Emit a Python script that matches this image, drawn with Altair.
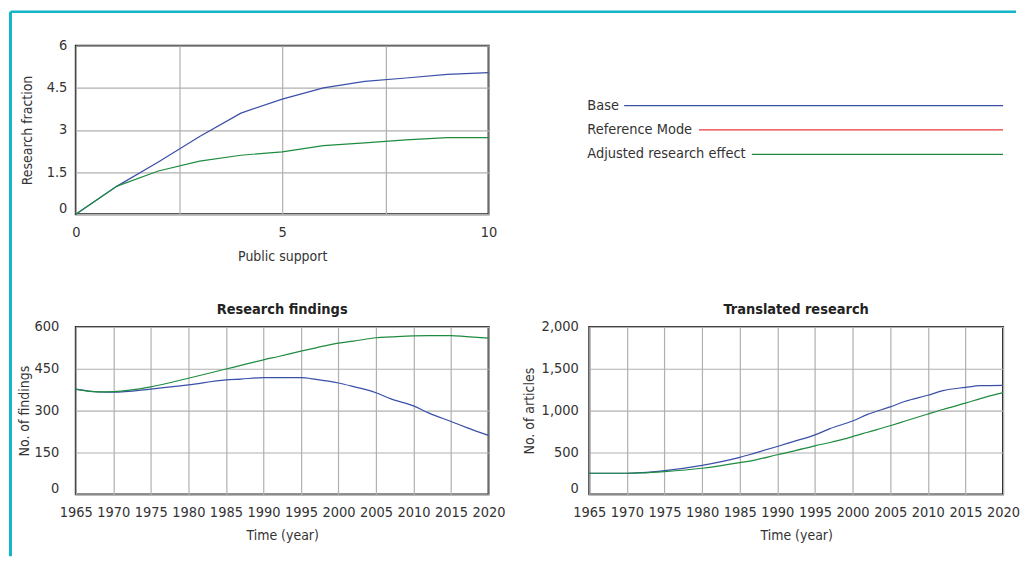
import altair as alt
import pandas as pd

FONT = "DejaVu Sans Condensed, Liberation Sans Narrow, sans-serif"
TEXT = "#333333"
BLUE = "#3a4fa8"
RED = "#e8383d"
GREEN = "#1f8b3f"
CYAN = "#14b4cc"
LABEL_SIZE = 14.5
TITLE_SIZE = 14

# ---- top chart: research fraction vs public support
support = [0, 1, 2, 3, 4, 5, 6, 7, 8, 9, 10]
base_fraction = [0, 1.0, 1.86, 2.77, 3.6, 4.1, 4.5, 4.73, 4.85, 4.98, 5.04]
adjusted_fraction = [0, 1.0, 1.54, 1.89, 2.1, 2.22, 2.44, 2.54, 2.65, 2.73, 2.73]

# ---- research findings
years_findings = [1965, 1968, 1970, 1975, 1980, 1985, 1987, 1990, 1992, 1995,
                  1997, 2000, 2002, 2005, 2007, 2010, 2012, 2015, 2017, 2020]
base_findings = [377, 367, 366, 377, 392, 410, 413, 418, 418, 418,
                 412, 399, 386, 364, 342, 317, 292, 261, 240, 211]
adjusted_findings = [376, 367, 368, 385, 416, 449, 462, 482, 494, 513,
                     525, 542, 549, 561, 564, 568, 569, 569, 565, 560]

# ---- translated research
years_translated = [1965, 1970, 1972, 1975, 1980, 1985, 1987, 1990, 1992, 1995,
                    1997, 2000, 2002, 2005, 2007, 2010, 2012, 2015, 2017, 2020]
base_translated = [252, 252, 260, 284, 347, 442, 493, 572, 627, 710,
                   785, 876, 955, 1045, 1112, 1183, 1239, 1278, 1298, 1302]
adjusted_translated = [252, 252, 256, 272, 312, 379, 410, 473, 513, 580,
                       619, 690, 742, 820, 876, 959, 1014, 1089, 1144, 1215]

series_names = ["Base", "Reference Mode", "Adjusted research effect"]
series_colors = [BLUE, RED, GREEN]
legend_row = [0, 1, 2]
legend_line_start = [35, 110, 163]  # where each legend line begins (after its label)

color_scale = alt.Scale(domain=series_names, range=series_colors)


def long_df(xs, base, adj, xname):
    rows = []
    for x, v in zip(xs, base):
        rows.append({xname: x, "value": v, "series": "Base"})
    for x, v in zip(xs, adj):
        rows.append({xname: x, "value": v, "series": "Adjusted research effect"})
    return pd.DataFrame(rows)


zero_offset = {"condition": {"test": "datum.value == 0", "value": -6}, "value": 0}

# top chart
df_top = long_df(support, base_fraction, adjusted_fraction, "support")
top_lines = alt.Chart(df_top).mark_line(strokeWidth=1.2).encode(
    x=alt.X("support:Q", scale=alt.Scale(domain=[0, 10], nice=False),
            axis=alt.Axis(values=[0, 2.5, 5, 7.5, 10],
                          labelExpr="datum.value % 5 == 0 ? format(datum.value, '~r') : ''",
                          title="Public support", labelPadding=11, titlePadding=11,
                          labelOverlap=False, labelFlush=False)),
    y=alt.Y("value:Q", scale=alt.Scale(domain=[0, 6], nice=False),
            axis=alt.Axis(values=[0, 1.5, 3, 4.5, 6],
                          labelExpr="format(datum.value, '~r')", title="Research fraction",
                          labelPadding=9, minExtent=30, maxExtent=30, titlePadding=11,
                          labelOffset=zero_offset, labelOverlap=False)),
    color=alt.Color("series:N", scale=color_scale, legend=None),
    order=alt.Order("support:Q"),
)

frame_df = pd.DataFrame({"k": [0]})
frame_v = alt.Chart(frame_df).mark_rule(color=CYAN, strokeWidth=3).encode(
    x=alt.value(-65.5), y=alt.value(-34), y2=alt.value(512))
frame_h = alt.Chart(frame_df).mark_rule(color=CYAN, strokeWidth=2.5).encode(
    x=alt.value(-65.5), x2=alt.value(943), y=alt.value(-34))

top = alt.layer(frame_v, frame_h, top_lines).properties(width=414, height=169)

# legend
legend_df = pd.DataFrame({"series": series_names, "row": legend_row,
                          "start": legend_line_start, "end": [415] * 3})
ly = alt.Y("row:Q", scale=alt.Scale(domain=[4.449, -2.449], nice=False, zero=False),
           axis=None)
lx = alt.Scale(domain=[0, 415], nice=False)
legend_text = alt.Chart(legend_df).mark_text(
    align="left", baseline="middle", font=FONT, fontSize=LABEL_SIZE, color=TEXT, dx=-2
).encode(x=alt.datum(0, scale=lx), y=ly, text="series:N")
legend_rule = alt.Chart(legend_df).mark_rule(strokeWidth=1.2).encode(
    x=alt.X("start:Q", scale=lx, axis=None), x2="end:Q", y=ly,
    color=alt.Color("series:N", scale=color_scale, legend=None))
legend = alt.layer(legend_rule, legend_text).properties(
    width=415, height=169, view=alt.ViewBackground(stroke=None))

year_axis = dict(values=list(range(1965, 2021, 5)), format="d", title="Time (year)",
                 labelPadding=11, titlePadding=10, labelOverlap=False, labelFlush=False)

# research findings
df_f = long_df(years_findings, base_findings, adjusted_findings, "year")
bl = alt.Chart(df_f, title="Research findings").mark_line(
    strokeWidth=1.2, interpolate="monotone").encode(
    x=alt.X("year:Q", scale=alt.Scale(domain=[1965, 2020], nice=False),
            axis=alt.Axis(**year_axis)),
    y=alt.Y("value:Q", scale=alt.Scale(domain=[0, 600], nice=False),
            axis=alt.Axis(values=[0, 150, 300, 450, 600], format="d",
                          title="No. of findings",
                          labelPadding=17, minExtent=30, maxExtent=30, titlePadding=14,
                          labelOffset=zero_offset, labelOverlap=False)),
    color=alt.Color("series:N", scale=color_scale, legend=None),
    order=alt.Order("year:Q"),
).properties(width=414, height=168)

# translated research
df_t = long_df(years_translated, base_translated, adjusted_translated, "year")
br = alt.Chart(df_t, title="Translated research").mark_line(
    strokeWidth=1.2, interpolate="monotone").encode(
    x=alt.X("year:Q", scale=alt.Scale(domain=[1965, 2020], nice=False),
            axis=alt.Axis(**year_axis)),
    y=alt.Y("value:Q", scale=alt.Scale(domain=[0, 2000], nice=False),
            axis=alt.Axis(values=[0, 500, 1000, 1500, 2000], format=",d",
                          title="No. of articles",
                          labelPadding=11, minExtent=30, maxExtent=30, titlePadding=23,
                          labelOffset=zero_offset, labelOverlap=False)),
    color=alt.Color("series:N", scale=color_scale, legend=None),
    order=alt.Order("year:Q"),
).properties(width=415, height=168)

chart = alt.concat(top, legend, bl, br, columns=2,
                   spacing={"row": 113, "column": 101}, bounds="flush").properties(
    padding=0
).configure_view(stroke="#222222", strokeWidth=2).configure_axis(
    labelFont=FONT, labelFontSize=LABEL_SIZE, labelColor=TEXT,
    titleFont=FONT, titleFontSize=TITLE_SIZE, titleFontWeight="normal", titleColor=TEXT,
    grid=True, gridColor="#b0b0b0", gridWidth=1.2, domain=False, ticks=False,
).configure_title(font=FONT, fontSize=LABEL_SIZE, fontWeight="bold", color="#222222",
                  offset=1)

chart.save("out.html", embed_options={"renderer": "svg", "actions": False})
